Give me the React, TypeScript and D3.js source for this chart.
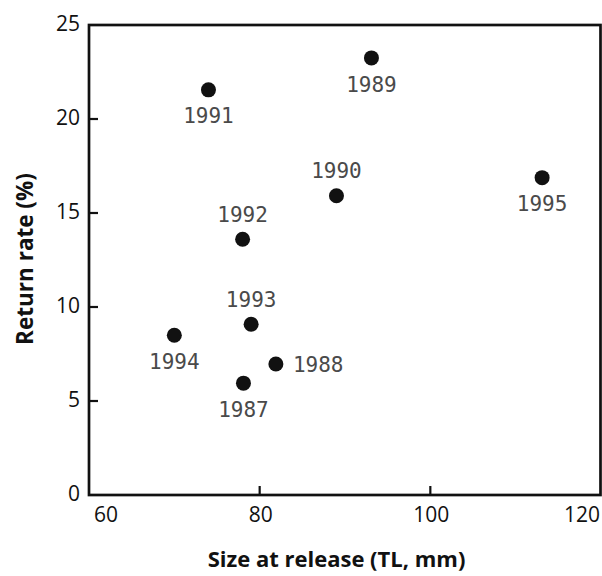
import React from "react";
import * as d3 from "d3";

const years = ["1987", "1988", "1989", "1990", "1991", "1992", "1993", "1994", "1995"];
const sizeAtRelease = [78.1, 81.9, 93.1, 89.0, 74.0, 78.0, 79.0, 70.0, 113.1];
const returnRate = [5.95, 6.97, 23.25, 15.92, 21.55, 13.6, 9.08, 8.5, 16.88];
const labelSide = ["below", "right", "below", "above", "below", "above", "above", "below", "below"];
const xTicks = [60, 80, 100, 120];
const yTicks = [0, 5, 10, 15, 20, 25];

const W = 602;
const H = 576;
const L = 89, R = 601, T = 25, B = 495;

export default function App() {
  const x = d3.scaleLinear().domain([60, 120]).range([L, R]);
  const y = d3.scaleLinear().domain([0, 25]).range([B, T]);
  const sans = "'Open Sans', 'Noto Sans', sans-serif";
  const mono = "'DejaVu Sans Mono', monospace";
  const ink = "#111";
  return (
    <svg width={W} height={H} style={{ position: "absolute", left: 0, top: 0, background: "#fff" }}>
      {/* ticks */}
      {yTicks.slice(1, -1).map((t) => (
        <line key={"yt" + t} x1={L} x2={L + 9} y1={y(t)} y2={y(t)} stroke={ink} strokeWidth={2.2} />
      ))}
      {xTicks.slice(1, -1).map((t) => (
        <line key={"xt" + t} x1={x(t)} x2={x(t)} y1={B} y2={B - 9} stroke={ink} strokeWidth={2.2} />
      ))}
      <rect x={L} y={T} width={R - 0.5 - L} height={B - T} fill="none" stroke={ink} strokeWidth={2.7} />
      {/* tick labels */}
      {yTicks.map((t) => (
        <text key={"yl" + t} x={80} y={y(t) + 6.3} textAnchor="end" fontFamily={sans} fontSize={21} fill={ink}>
          {t}
        </text>
      ))}
      {xTicks.map((t, i) => (
        <text
          key={"xl" + t}
          x={i === 0 ? x(t) + 5 : i === xTicks.length - 1 ? x(t) - 1 : x(t) + 1}
          y={522}
          textAnchor={i === 0 ? "start" : i === xTicks.length - 1 ? "end" : "middle"}
          fontFamily={sans}
          fontSize={21}
          fill={ink}
        >
          {t}
        </text>
      ))}
      {/* axis titles */}
      <text x={336.5} y={567} textAnchor="middle" fontFamily={sans} fontWeight="bold" fontSize={22} fill={ink}>
        Size at release (TL, mm)
      </text>
      <text
        transform={`translate(33, 259) rotate(-90)`}
        textAnchor="middle"
        fontFamily={sans}
        fontWeight="bold"
        fontSize={22.5}
        fill={ink}
      >
        Return rate (%)
      </text>
      {/* points */}
      {years.map((yr, i) => {
        const cx = x(sizeAtRelease[i]);
        const cy = y(returnRate[i]);
        const side = labelSide[i];
        let lx = cx, ly = cy, anchor = "middle";
        if (side === "below") ly = cy + 26;
        else if (side === "above") ly = cy - 25;
        else { lx = cx + 17; anchor = "start"; }
        return (
          <g key={yr}>
            <circle cx={cx} cy={cy} r={7.5} fill={ink} />
            <text x={lx} y={ly + 7.6} textAnchor={anchor} fontFamily={mono} fontSize={21} fill="#4a4a4a">
              {yr}
            </text>
          </g>
        );
      })}
    </svg>
  );
}
